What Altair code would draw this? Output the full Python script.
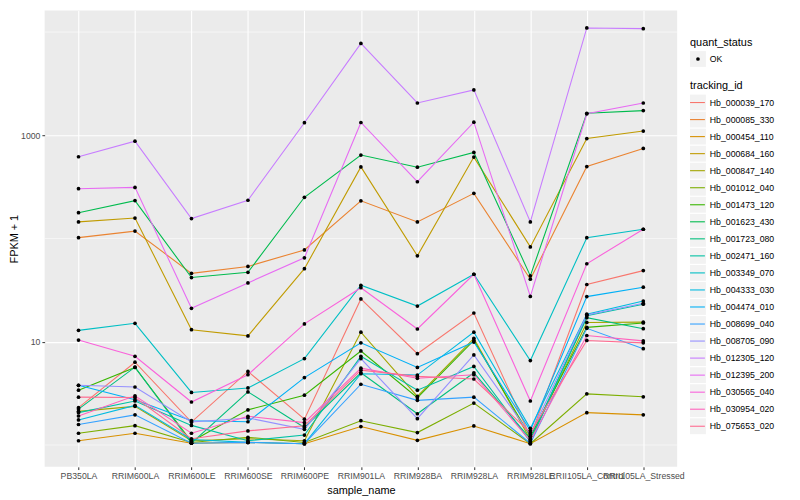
import altair as alt
import pandas as pd

samples = ["PB350LA", "RRIM600LA", "RRIM600LE", "RRIM600SE", "RRIM600PE", "RRIM901LA",
           "RRIM928BA", "RRIM928LA", "RRIM928LE", "RRII105LA_Control", "RRII105LA_Stressed"]

ids = ["Hb_000039_170", "Hb_000085_330", "Hb_000454_110", "Hb_000684_160", "Hb_000847_140",
       "Hb_001012_040", "Hb_001473_120", "Hb_001623_430", "Hb_001723_080", "Hb_002471_160",
       "Hb_003349_070", "Hb_004333_030", "Hb_004474_010", "Hb_008699_040", "Hb_008705_090",
       "Hb_012305_120", "Hb_012395_200", "Hb_030565_040", "Hb_030954_020", "Hb_075653_020"]

colors = ["#F8766D", "#EA8331", "#D89000", "#C09B00", "#A3A500", "#7CAE00", "#39B600", "#00BB4E",
          "#00BF7D", "#00C1A3", "#00BFC4", "#00BAE0", "#00B0F6", "#35A2FF", "#9590FF", "#C77CFF",
          "#E76BF3", "#FA62DB", "#FF62BC", "#FF6C91"]

# FPKM + 1 per sample (order of `samples`)
Hb_000039_170 = [2.30, 6.34, 1.67, 5.16, 1.78, 26.0, 7.67, 19.0, 1.21, 35.9, 48.9]
Hb_000085_330 = [102, 118, 46.0, 53.7, 77.6, 232, 145, 274, 40.4, 498, 746]
Hb_000454_110 = [1.10, 1.30, 1.04, 1.06, 1.03, 1.51, 1.11, 1.53, 1.03, 2.06, 1.96]
Hb_000684_160 = [145, 158, 13.1, 11.4, 51.1, 494, 68.0, 615, 83.0, 930, 1099]
Hb_000847_140 = [2.12, 2.37, 1.10, 1.15, 1.10, 12.4, 2.96, 10.8, 1.13, 15.4, 15.5]
Hb_001012_040 = [1.30, 1.54, 1.06, 1.19, 1.06, 1.72, 1.32, 2.55, 1.03, 3.13, 2.93]
Hb_001473_120 = [3.40, 5.64, 1.08, 2.19, 3.04, 8.15, 2.87, 10.3, 1.21, 13.8, 15.2]
Hb_001623_430 = [178, 233, 41.9, 47.1, 251, 644, 491, 683, 43.5, 1633, 1734]
Hb_001723_080 = [2.23, 5.68, 1.04, 3.27, 1.48, 5.01, 2.01, 5.01, 1.15, 17.1, 13.4]
Hb_002471_160 = [2.06, 2.67, 1.55, 1.10, 1.25, 7.23, 3.40, 5.77, 1.08, 17.9, 23.1]
Hb_003349_070 = [12.9, 15.1, 3.23, 3.57, 6.87, 35.3, 22.2, 45.1, 6.58, 102, 123]
Hb_004333_030 = [1.75, 2.42, 1.13, 1.06, 1.03, 4.91, 4.76, 12.4, 1.45, 18.5, 24.8]
Hb_004474_010 = [3.79, 2.74, 1.72, 1.68, 4.50, 9.77, 5.64, 9.94, 1.38, 27.4, 33.8]
Hb_008699_040 = [1.58, 1.96, 1.04, 1.06, 1.03, 3.88, 2.71, 2.91, 1.04, 13.5, 8.57]
Hb_008705_090 = [3.79, 3.65, 1.67, 1.83, 1.42, 6.87, 1.80, 7.46, 1.26, 18.2, 23.6]
Hb_012305_120 = [620, 877, 156, 235, 1324, 7762, 2056, 2754, 145, 10965, 10790]
Hb_012395_200 = [304, 313, 21.1, 37.2, 65.1, 1331, 355, 1340, 27.5, 1614, 2056]
Hb_030565_040 = [10.4, 7.23, 2.61, 4.80, 14.9, 33.4, 13.3, 45.1, 2.67, 57.0, 123]
Hb_030954_020 = [1.91, 3.00, 1.30, 1.90, 1.65, 5.55, 4.43, 4.80, 1.10, 11.5, 10.2]
Hb_075653_020 = [2.91, 2.89, 1.15, 1.37, 1.54, 5.31, 4.62, 4.36, 1.32, 10.3, 9.77]

series = [Hb_000039_170, Hb_000085_330, Hb_000454_110, Hb_000684_160, Hb_000847_140,
          Hb_001012_040, Hb_001473_120, Hb_001623_430, Hb_001723_080, Hb_002471_160,
          Hb_003349_070, Hb_004333_030, Hb_004474_010, Hb_008699_040, Hb_008705_090,
          Hb_012305_120, Hb_012395_200, Hb_030565_040, Hb_030954_020, Hb_075653_020]

minor_breaks = [1, 100, 10000]
major_breaks = [10, 1000]

rows = []
for tid, vals in zip(ids, series):
    for s, v in zip(samples, vals):
        rows.append({"tracking_id": tid, "sample_name": s, "fpkm": v, "quant_status": "OK"})
df = pd.DataFrame(rows)

FONT = "Liberation Sans"

xenc = alt.X("sample_name:N", sort=samples,
             scale=alt.Scale(type="point", padding=0.6, domain=samples),
             axis=alt.Axis(title="sample_name", grid=True, gridColor="white", gridWidth=1.1,
                           domain=False, tickColor="#333333", tickSize=2.75, tickWidth=1,
                           labelColor="#4D4D4D", labelFontSize=8.8, labelFont=FONT,
                           labelPadding=2, labelOverlap=False, labelAngle=0,
                           titleFont=FONT, titleFontSize=11, titleFontWeight="normal",
                           titleColor="black", titlePadding=4))

yscale = alt.Scale(type="log", domain=[0.615, 16180], nice=False)
yaxis = alt.Axis(title="FPKM + 1", values=major_breaks, format="d", grid=True,
                 gridColor="white", gridWidth=1.1, domain=False, tickColor="#333333",
                 tickSize=2.75, tickWidth=1, labelColor="#4D4D4D", labelFontSize=8.8,
                 labelFont=FONT, labelPadding=2, titleFont=FONT, titleFontSize=11,
                 titleFontWeight="normal", titleColor="black", titlePadding=1)

cscale = alt.Scale(domain=ids, range=colors)

minor = alt.Chart(pd.DataFrame({"v": minor_breaks})).mark_rule(
    color="white", strokeWidth=0.55).encode(y=alt.Y("v:Q", scale=yscale, axis=yaxis))

lines = alt.Chart(df).mark_line(strokeWidth=1.1).encode(
    x=xenc,
    y=alt.Y("fpkm:Q", scale=yscale, axis=yaxis),
    color=alt.Color("tracking_id:N", scale=cscale, legend=None),
)

points = alt.Chart(df).mark_circle(color="black", size=14, opacity=1).encode(
    x=xenc,
    y=alt.Y("fpkm:Q", scale=yscale, axis=yaxis),
    detail="tracking_id:N",
)

main = alt.layer(minor, lines, points)

# manual ggplot-style legend
leg_df = pd.DataFrame({"tracking_id": ids})
ly = alt.Y("tracking_id:N", sort=ids,
           scale=alt.Scale(type="point", domain=ids, range=[93, 420], padding=0),
           axis=None)

boxes = alt.Chart(leg_df).mark_square(size=256, color="#F2F2F2", opacity=1).encode(
    x=alt.value(660), y=ly)
keylines = alt.Chart(leg_df).mark_rule(strokeWidth=1.1).encode(
    x=alt.value(652), x2=alt.value(667), y=ly,
    color=alt.Color("tracking_id:N", scale=cscale, legend=None))
labels = alt.Chart(leg_df).mark_text(align="left", baseline="middle", fontSize=8.8,
                                     font=FONT, color="black").encode(
    x=alt.value(672), y=ly, text="tracking_id:N")

qs_df = pd.DataFrame({"t": ["quant_status"]})
qs_title = alt.Chart(qs_df).mark_text(align="left", baseline="middle", fontSize=11,
                                      font=FONT, color="black").encode(
    x=alt.value(652), y=alt.value(33), text="t:N")
ok_df = pd.DataFrame({"quant_status": ["OK"]})
ok_box = alt.Chart(ok_df).mark_square(size=256, color="#F2F2F2", opacity=1).encode(
    x=alt.value(660), y=alt.value(49))
ok_pt = alt.Chart(ok_df).mark_circle(size=14, color="black", opacity=1).encode(
    x=alt.value(660), y=alt.value(49))
ok_txt = alt.Chart(ok_df).mark_text(align="left", baseline="middle", fontSize=8.8,
                                    font=FONT, color="black").encode(
    x=alt.value(672), y=alt.value(49), text="quant_status:N")
tid_df = pd.DataFrame({"t": ["tracking_id"]})
tid_title = alt.Chart(tid_df).mark_text(align="left", baseline="middle", fontSize=11,
                                        font=FONT, color="black").encode(
    x=alt.value(652), y=alt.value(76), text="t:N")

legend = alt.layer(boxes, keylines, labels, qs_title, ok_box, ok_pt, ok_txt, tid_title)

chart = alt.layer(main, legend).resolve_scale(y="independent").properties(
    width=639, height=461,
    autosize=alt.AutoSizeParams(type="none"),
    padding={"left": 37, "top": 0, "right": 116, "bottom": 31},
).configure(font=FONT).configure_view(fill="#EBEBEB", stroke=None)

chart.save("out.html", embed_options={"renderer": "svg", "actions": False})
